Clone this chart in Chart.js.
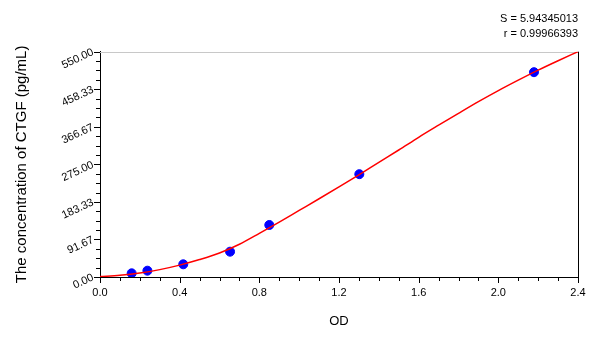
<!DOCTYPE html>
<html><head><meta charset="utf-8">
<script src="https://cdn.jsdelivr.net/npm/chart.js@4/dist/chart.umd.min.js"></script>
<style>html,body{margin:0;padding:0;background:#fff}</style>
</head><body>
<canvas id="c" width="600" height="337"></canvas>
<script>
// ---- data ----
const odValues   = [0.159, 0.238, 0.418, 0.653, 0.850, 1.302, 2.179];
const concValues = [9.0, 15.4, 31.0, 61.8, 127.0, 251.0, 500.0];

const curveOD   = [0.0, 0.1, 0.2, 0.3, 0.4, 0.5, 0.6, 0.7, 0.8, 0.9, 1.0, 1.1, 1.2, 1.3, 1.4, 1.5, 1.6, 1.7, 1.8, 1.9, 2.0, 2.1, 2.2, 2.3, 2.4];
const curveConc = [1, 4, 9.5, 18, 29, 42.5, 58.5, 80, 106.5, 134, 162.5, 191, 220, 249.5, 280, 310, 341, 370.5, 399.5, 428, 455, 480.5, 505, 528, 550];

const xMajorTicks = [0.0, 0.4, 0.8, 1.2, 1.6, 2.0, 2.4];
const xTickLabels = ['0.0', '0.4', '0.8', '1.2', '1.6', '2.0', '2.4'];
const xMinorTicks = [0.1, 0.2, 0.3, 0.5, 0.6, 0.7, 0.9, 1.0, 1.1, 1.3, 1.4, 1.5, 1.7, 1.8, 1.9, 2.1, 2.2, 2.3];

const yMajorTicks = [0, 91.6667, 183.3333, 275, 366.6667, 458.3333, 550];
const yTickLabels = ['0.00', '91.67', '183.33', '275.00', '366.67', '458.33', '550.00'];
const yMinorTicks = [22.9167, 45.8333, 68.75, 114.5833, 137.5, 160.4167, 206.25, 229.1667, 252.0833,
                     297.9167, 320.8333, 343.75, 389.5833, 412.5, 435.4167, 481.25, 504.1667, 527.0833];

const statsLines = ['S = 5.94345013', 'r = 0.99966393'];
const xTitle = 'OD';
const yTitle = 'The concentration of CTGF (pg/mL)';

// ---- chart ----
Chart.defaults.font.family = "'Liberation Sans', Arial, sans-serif";
Chart.defaults.color = '#000';

function isClose(a, b) { return Math.abs(a - b) < 1e-3; }
function buildTicks(major, minor) {
  return major.concat(minor).sort((a, b) => a - b).map(v => ({ value: v }));
}
function labelFor(value, major, labels) {
  const i = major.findIndex(m => isClose(m, value));
  return i >= 0 ? labels[i] : '';
}

const tickPlugin = {
  id: 'tickPlugin',
  beforeDatasetsDraw(chart) {
    const ctx = chart.ctx;
    const { left, right, top, bottom } = chart.chartArea;
    ctx.save();
    ctx.lineWidth = 1;
    ctx.strokeStyle = '#c8c8c8';
    ctx.beginPath(); ctx.moveTo(left, Math.round(top) + 0.5); ctx.lineTo(right, Math.round(top) + 0.5); ctx.stroke();
    ctx.strokeStyle = '#000';
    ctx.beginPath(); ctx.moveTo(Math.round(right) + 0.5, top); ctx.lineTo(Math.round(right) + 0.5, bottom); ctx.stroke();
    const xs = chart.scales.x, ys = chart.scales.y;
    xs.ticks.forEach(t => {
      const major = xMajorTicks.some(m => isClose(m, t.value));
      const px = Math.round(xs.getPixelForValue(t.value)) + 0.5;
      ctx.beginPath(); ctx.moveTo(px, bottom); ctx.lineTo(px, bottom + (major ? 6 : 4)); ctx.stroke();
    });
    ys.ticks.forEach(t => {
      const major = yMajorTicks.some(m => isClose(m, t.value));
      const py = Math.round(ys.getPixelForValue(t.value)) + 0.5;
      ctx.beginPath(); ctx.moveTo(left, py); ctx.lineTo(left - (major ? 6 : 4), py); ctx.stroke();
    });
    ctx.restore();
  }
};

new Chart(document.getElementById('c'), {
  type: 'scatter',
  data: {
    datasets: [
      {
        label: 'fit',
        data: curveOD.map((x, i) => ({ x, y: curveConc[i] })),
        showLine: true,
        borderColor: '#ff0000',
        borderWidth: 1.5,
        pointRadius: 0,
        cubicInterpolationMode: 'monotone',
        order: 0
      },
      {
        label: 'standards',
        data: odValues.map((x, i) => ({ x, y: concValues[i] })),
        backgroundColor: '#0000ff',
        borderColor: '#0000ff',
        pointRadius: 4.5,
        order: 1
      }
    ]
  },
  options: {
    responsive: false,
    animation: false,
    devicePixelRatio: 1,
    layout: { padding: { left: 0, right: 22, top: 0, bottom: 0 } },
    plugins: {
      legend: { display: false },
      tooltip: { enabled: false },
      title: {
        display: true,
        text: statsLines,
        align: 'end',
        color: '#000',
        font: { size: 11, weight: 'normal', lineHeight: 1.35 },
        padding: { top: 12, bottom: 10 }
      }
    },
    scales: {
      x: {
        type: 'linear',
        min: 0, max: 2.4,
        afterBuildTicks: s => { s.ticks = buildTicks(xMajorTicks, xMinorTicks); },
        afterFit: s => { s.height = 60; },
        ticks: {
          autoSkip: false, maxRotation: 0, minRotation: 0, padding: 3,
          font: { size: 11 },
          callback: v => labelFor(v, xMajorTicks, xTickLabels)
        },
        grid: { display: true, drawOnChartArea: false, drawTicks: true, tickLength: 6, tickColor: 'rgba(0,0,0,0)' },
        border: { display: true, color: '#000', width: 1 },
        title: { display: true, text: xTitle, font: { size: 13 }, padding: { top: 0, bottom: 8 } }
      },
      y: {
        type: 'linear',
        min: 0, max: 550,
        afterBuildTicks: s => { s.ticks = buildTicks(yMajorTicks, yMinorTicks); },
        afterFit: s => { s.width = 100; },
        ticks: {
          autoSkip: false, minRotation: 25, maxRotation: 25, padding: 1,
          font: { size: 11 },
          callback: v => labelFor(v, yMajorTicks, yTickLabels)
        },
        grid: { display: true, drawOnChartArea: false, drawTicks: true, tickLength: 6, tickColor: 'rgba(0,0,0,0)' },
        border: { display: true, color: '#000', width: 1 },
        title: { display: true, text: yTitle, font: { size: 15 }, padding: { top: 13, bottom: 0 } }
      }
    }
  },
  plugins: [tickPlugin]
});
</script>
</body></html>
